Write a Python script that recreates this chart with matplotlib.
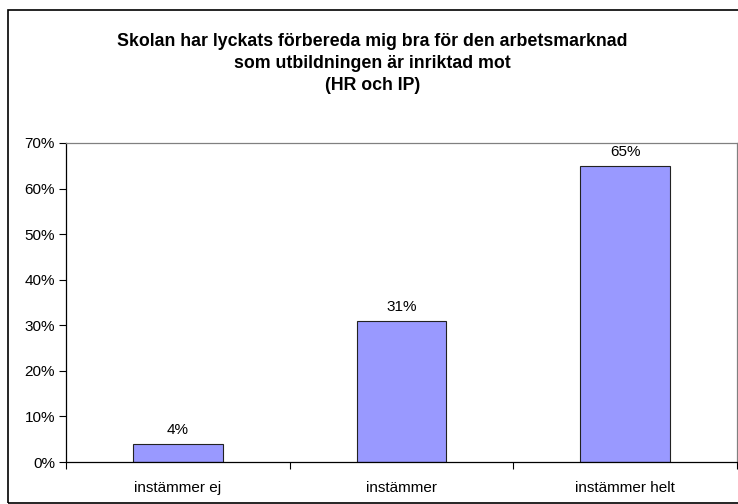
import matplotlib.pyplot as plt
from matplotlib.patches import Rectangle
from matplotlib.ticker import FixedLocator

categories = ['instämmer ej', 'instämmer', 'instämmer helt']
values = [4, 31, 65]
labels = ['4%', '31%', '65%']
yticks = [0, 10, 20, 30, 40, 50, 60, 70]

plt.rcParams['font.family'] = ['Liberation Sans', 'DejaVu Sans']

fig = plt.figure(figsize=(7.38, 5.04), dpi=100)
ax = fig.add_axes([66 / 738, 1 - 462 / 504, (737 - 66) / 738, (462 - 143) / 504])

x = range(len(categories))
bars = ax.bar(x, values, width=0.40, color='#9999FF', edgecolor='#222222', linewidth=0.8)
for b, lab in zip(bars, labels):
    ax.text(b.get_x() + b.get_width() / 2, b.get_height() + 1.5, lab,
            ha='center', va='bottom', fontsize=11)

ax.set_xlim(-0.5, len(categories) - 0.5)
ax.set_ylim(0, 70)
ax.set_yticks(yticks)
ax.set_yticklabels([f'{t}%' for t in yticks], fontsize=11)
ax.set_xticks(list(x))
ax.set_xticklabels(categories, fontsize=11)
ax.tick_params(axis='x', length=0, pad=14)
ax.xaxis.set_minor_locator(FixedLocator([-0.5, 0.5, 1.5, 2.5]))
ax.tick_params(axis='x', which='minor', length=5, width=0.8, direction='out')
ax.tick_params(axis='y', length=5, width=0.8, direction='out', pad=3)

ax.spines['left'].set_color('black')
ax.spines['bottom'].set_color('black')
ax.spines['top'].set_color('#808080')
ax.spines['right'].set_color('#808080')
for s in ax.spines.values():
    s.set_linewidth(0.9)

fig.text(0.505, 1 - 63.5 / 504,
         'Skolan har lyckats förbereda mig bra för den arbetsmarknad\n'
         'som utbildningen är inriktad mot\n(HR och IP)',
         ha='center', va='center', fontsize=12.75, fontweight='bold', linespacing=1.38)

fig.patches.append(Rectangle((8 / 738, 1 / 504), 1.0, 1 - 11 / 504,
                             transform=fig.transFigure, fill=False,
                             edgecolor='black', linewidth=1.2))

fig.savefig('out.png', dpi=100)
